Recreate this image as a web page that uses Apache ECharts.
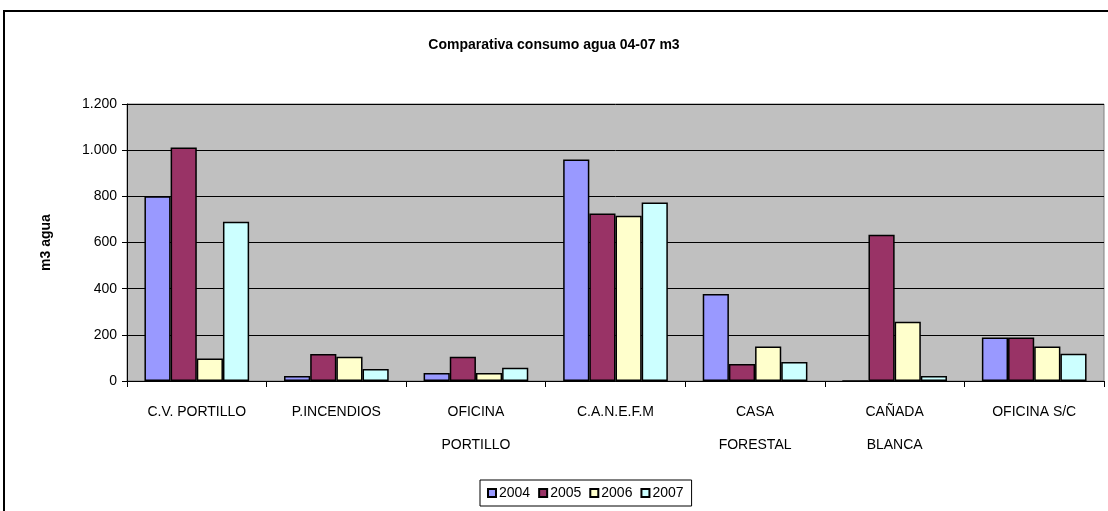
<!DOCTYPE html>
<html>
<head>
<meta charset="utf-8">
<script src="https://cdn.jsdelivr.net/npm/echarts@6/dist/echarts.min.js"></script>
<style>
  html, body { margin: 0; padding: 0; background: #fff; }
  #main { width: 1108px; height: 511px; }
</style>
</head>
<body>
<div id="main"></div>
<script>
const categories = ["C.V. PORTILLO", "P.INCENDIOS", "OFICINA\nPORTILLO", "C.A.N.E.F.M", "CASA\nFORESTAL", "CAÑADA\nBLANCA", "OFICINA S/C"]
const years = ["2004", "2005", "2006", "2007"]
const v2004 = [800, 22, 35, 960, 377, 0, 188]
const v2005 = [1012, 117, 105, 726, 74, 634, 188]
const v2006 = [97, 105, 35, 716, 149, 257, 149]
const v2007 = [690, 52, 57, 773, 82, 22, 118]
const colors = ["#9999ff", "#993366", "#ffffcc", "#ccffff"]

const font = "'Liberation Sans', Arial, sans-serif"
const chart = echarts.init(document.getElementById("main"))

chart.setOption({
  animation: false,
  title: {
    text: "Comparativa consumo agua 04-07 m3",
    left: "center",
    top: 33,
    textStyle: { fontFamily: font, fontSize: 14, fontWeight: "bold", color: "#000" }
  },
  graphic: [{
    type: "rect",
    shape: { x: 4, y: 11, width: 1110, height: 510 },
    style: { fill: "none", stroke: "#000", lineWidth: 2 },
    silent: true
  }],
  legend: {
    data: years,
    left: 480,
    top: 480,
    icon: "rect",
    itemWidth: 8,
    itemHeight: 8,
    itemGap: 8,
    padding: [6, 8, 6, 7],
    borderColor: "#000",
    borderWidth: 1,
    textStyle: { fontFamily: font, fontSize: 14, color: "#000", padding: [0, 0, 0, -2] }
  },
  grid: {
    left: 127,
    right: 4,
    top: 104,
    bottom: 130,
    show: true,
    backgroundColor: "#c0c0c0",
    borderColor: "#808080",
    borderWidth: 1
  },
  xAxis: {
    type: "category",
    data: categories,
    axisLine: { lineStyle: { color: "#000" } },
    axisTick: { show: true, inside: false, length: 6, lineStyle: { color: "#000" } },
    axisLabel: { fontFamily: font, fontSize: 14, color: "#000", margin: 15, lineHeight: 33, interval: 0 }
  },
  yAxis: {
    type: "value",
    min: 0,
    max: 1200,
    interval: 200,
    name: "m3 agua",
    nameLocation: "middle",
    nameGap: 74,
    nameRotate: 90,
    nameTextStyle: { fontFamily: font, fontSize: 14, fontWeight: "bold", color: "#000" },
    axisLine: { show: true, lineStyle: { color: "#000" } },
    axisTick: { show: true, length: 5, lineStyle: { color: "#000" } },
    splitLine: { lineStyle: { color: "#000", width: 1 } },
    axisLabel: {
      fontFamily: font, fontSize: 14, color: "#000", margin: 10,
      formatter: v => String(v).replace(/\B(?=(\d{3})+(?!\d))/g, ".")
    }
  },
  series: [v2004, v2005, v2006, v2007].map((d, i) => ({
    name: years[i],
    type: "bar",
    data: d,
    barGap: "0%",
    barCategoryGap: "25%",
    itemStyle: { color: colors[i], borderColor: "#000", borderWidth: 1.5 }
  }))
})
</script>
</body>
</html>
